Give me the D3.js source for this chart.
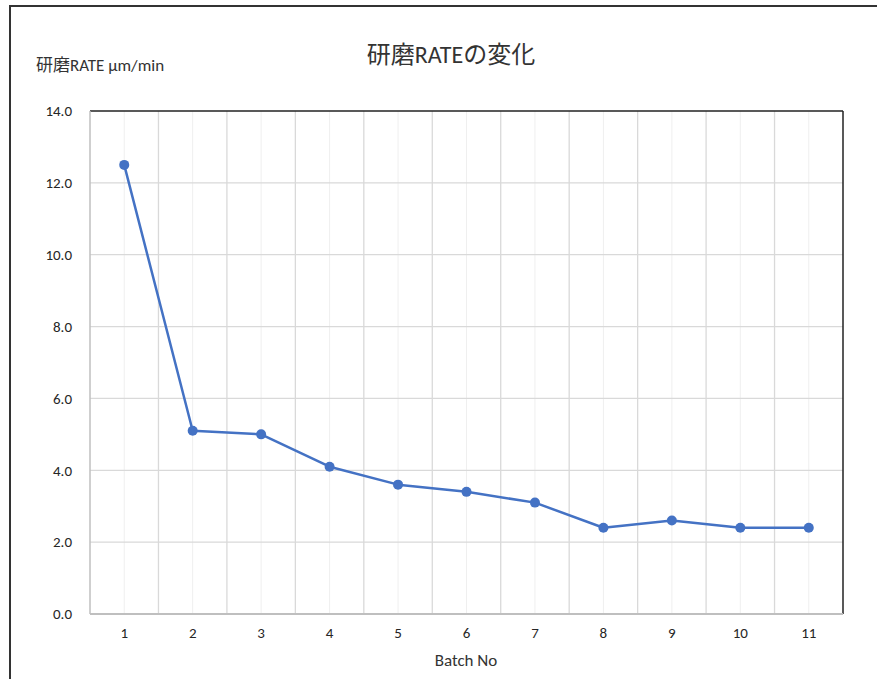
<!DOCTYPE html>
<html>
<head>
<meta charset="utf-8">
<script src="https://cdn.jsdelivr.net/npm/d3@7"></script>
<style>
  body { margin: 0; background: #fff; }
  text { font-family: Calibri, "Open Sans", "Noto Sans CJK JP", sans-serif; }
</style>
</head>
<body>
<svg width="877" height="679"></svg>
<script>
// データ
const batches = ["1", "2", "3", "4", "5", "6", "7", "8", "9", "10", "11"];
const rates = [12.5, 5.1, 5.0, 4.1, 3.6, 3.4, 3.1, 2.4, 2.6, 2.4, 2.4];
const yTicks = [0, 2, 4, 6, 8, 10, 12, 14];

const width = 877;
const height = 679;
const margin = { top: 111, right: 34, bottom: 65, left: 90 };
const plotW = width - margin.left - margin.right;
const plotH = height - margin.top - margin.bottom;

const svg = d3.select("svg");

// 外枠
svg.append("rect")
  .attr("x", 10).attr("y", 6)
  .attr("width", width + 20).attr("height", height + 20)
  .attr("fill", "none")
  .attr("stroke", "#333")
  .attr("stroke-width", 2);

const g = svg.append("g")
  .attr("transform", `translate(${margin.left},${margin.top})`);

const x = d3.scaleBand().domain(batches).range([0, plotW]);
const y = d3.scaleLinear().domain([0, 14]).range([plotH, 0]);

// 補助目盛線（カテゴリ中央）
g.append("g").selectAll("line")
  .data(batches)
  .join("line")
  .attr("x1", d => x(d) + x.bandwidth() / 2)
  .attr("x2", d => x(d) + x.bandwidth() / 2)
  .attr("y1", 0).attr("y2", plotH)
  .attr("stroke", "#efefef")
  .attr("stroke-width", 1);

// 主目盛線（カテゴリ境界）
g.append("g").selectAll("line")
  .data(batches.slice(1))
  .join("line")
  .attr("x1", d => x(d))
  .attr("x2", d => x(d))
  .attr("y1", 0).attr("y2", plotH)
  .attr("stroke", "#d9d9d9")
  .attr("stroke-width", 1.3);

// 横目盛線
g.append("g").selectAll("line")
  .data(yTicks.filter(t => t > 0 && t < 14))
  .join("line")
  .attr("x1", 0).attr("x2", plotW)
  .attr("y1", d => y(d)).attr("y2", d => y(d))
  .attr("stroke", "#d9d9d9")
  .attr("stroke-width", 1.3);

// 上・右の枠線
g.append("line")
  .attr("x1", 0).attr("x2", plotW)
  .attr("y1", 0).attr("y2", 0)
  .attr("stroke", "#222").attr("stroke-width", 1.5);
g.append("line")
  .attr("x1", plotW).attr("x2", plotW)
  .attr("y1", 0).attr("y2", plotH)
  .attr("stroke", "#222").attr("stroke-width", 1.5);

// 軸線
g.append("line")
  .attr("x1", 0).attr("x2", 0)
  .attr("y1", 0).attr("y2", plotH)
  .attr("stroke", "#bfbfbf").attr("stroke-width", 1.5);
g.append("line")
  .attr("x1", 0).attr("x2", plotW)
  .attr("y1", plotH).attr("y2", plotH)
  .attr("stroke", "#bfbfbf").attr("stroke-width", 2);

// Y軸ラベル
const yAxis = g.append("g")
  .call(d3.axisLeft(y).tickValues(yTicks).tickFormat(d3.format(".1f")).tickSize(0).tickPadding(18));
yAxis.select(".domain").remove();
yAxis.selectAll("text")
  .attr("font-size", 15)
  .attr("fill", "#262626");

// X軸ラベル
const xAxis = g.append("g")
  .attr("transform", `translate(0,${plotH})`)
  .call(d3.axisBottom(x).tickSize(0).tickPadding(13));
xAxis.select(".domain").remove();
xAxis.selectAll("text")
  .attr("font-size", 15)
  .attr("fill", "#262626");

// 折れ線
const line = d3.line()
  .x((d, i) => x(batches[i]) + x.bandwidth() / 2)
  .y(d => y(d));

g.append("path")
  .datum(rates)
  .attr("d", line)
  .attr("fill", "none")
  .attr("stroke", "#4472c4")
  .attr("stroke-width", 2.5)
  .attr("stroke-linejoin", "round");

g.append("g").selectAll("circle")
  .data(rates)
  .join("circle")
  .attr("cx", (d, i) => x(batches[i]) + x.bandwidth() / 2)
  .attr("cy", d => y(d))
  .attr("r", 5)
  .attr("fill", "#4472c4");

// タイトル
svg.append("text")
  .attr("x", 451).attr("y", 63)
  .attr("text-anchor", "middle")
  .attr("font-size", 24)
  .attr("fill", "#333")
  .text("研磨RATEの変化");

svg.append("text")
  .attr("x", 36).attr("y", 71)
  .attr("font-size", 17)
  .attr("fill", "#333")
  .text("研磨RATE µm/min");

svg.append("text")
  .attr("x", 466).attr("y", 666)
  .attr("text-anchor", "middle")
  .attr("font-size", 17)
  .attr("fill", "#333")
  .text("Batch No");
</script>
</body>
</html>
